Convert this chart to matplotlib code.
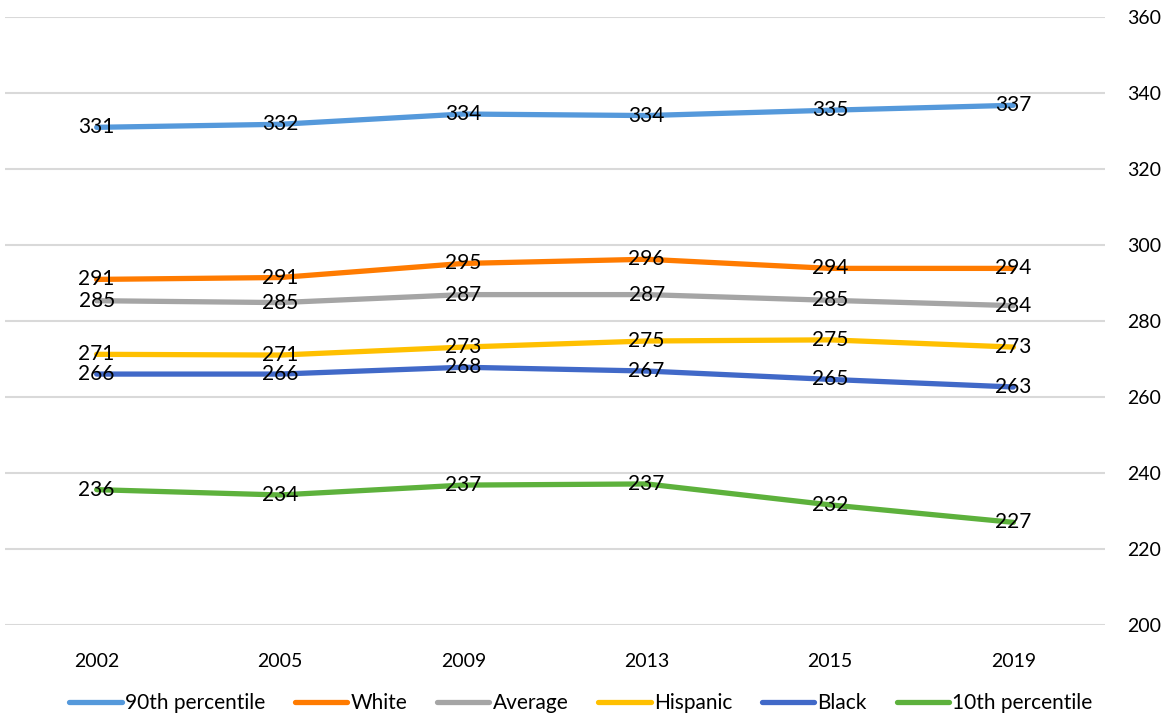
import numpy as np
import matplotlib.pyplot as plt

plt.rcParams['font.family'] = ['Lato', 'DejaVu Sans']

years = ["2002", "2005", "2009", "2013", "2015", "2019"]
p90 = [330.9, 331.7, 334.4, 334.0, 335.4, 336.7]
white = [290.9, 291.4, 295.1, 296.2, 293.8, 293.8]
average = [285.3, 284.8, 286.9, 286.9, 285.4, 284.0]
hispanic = [271.2, 271.0, 273.1, 274.7, 275.0, 273.1]
black = [266.0, 266.0, 267.8, 266.8, 264.6, 262.6]
p10 = [235.6, 234.2, 236.8, 237.1, 231.6, 227.0]

series = [
    ("90th percentile", p90, "#5599DB"),
    ("White", white, "#FF7B00"),
    ("Average", average, "#A5A5A5"),
    ("Hispanic", hispanic, "#FFC000"),
    ("Black", black, "#4169C8"),
    ("10th percentile", p10, "#5DB13C"),
]

fig = plt.figure(figsize=(11.69, 7.21), dpi=100)
ax = fig.add_axes([5 / 1169, 1 - 625 / 721, 1100 / 1169, (625 - 16.7) / 721])

x = np.arange(len(years))
for name, vals, col in series:
    ax.plot(x, vals, color=col, lw=3.8, label=name, solid_capstyle="round", zorder=2)
    for xi, v in zip(x, vals):
        ax.text(xi, v, "{:.0f}".format(v), ha="center", va="center",
                fontsize=15, color="black", zorder=3)

ax.set_xlim(-0.5, len(years) - 0.5)
ax.set_ylim(200, 360)
ax.set_yticks(np.arange(200, 361, 20))
ax.yaxis.tick_right()
ax.set_xticks(x)
ax.set_xticklabels(years)
ax.tick_params(axis="both", length=0, labelsize=14)
ax.tick_params(axis="x", pad=20)
ax.tick_params(axis="y", pad=16)
ax.grid(axis="y", color="#D9D9D9", lw=1.5)
ax.set_axisbelow(True)
for s in ax.spines.values():
    s.set_visible(False)

fig.legend(loc="center", bbox_to_anchor=(581 / 1169, 1 - 703 / 721), ncol=6,
           frameon=False, fontsize=15, handlelength=2.5, handletextpad=0.15,
           columnspacing=1.45)

fig.savefig("out.png", dpi=100)
